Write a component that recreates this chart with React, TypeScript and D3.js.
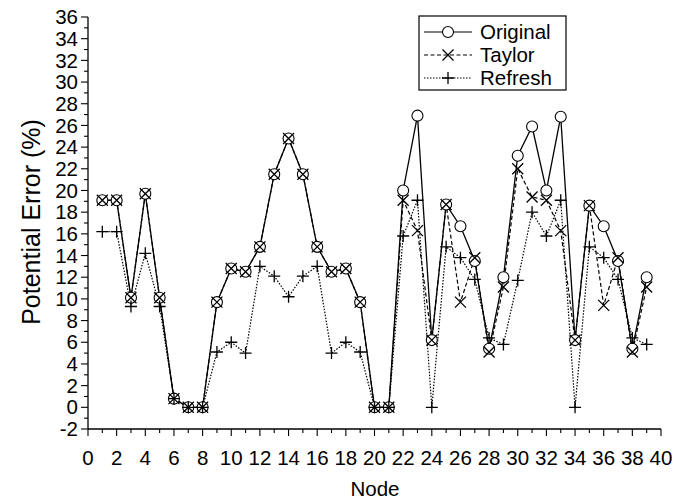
import React from "react";
import * as d3 from "d3";

const nodes = d3.range(1, 40);
const original = [19.1, 19.1, 10.1, 19.7, 10.1, 0.8, 0, 0, 9.7, 12.8, 12.5, 14.8, 21.5, 24.8, 21.5, 14.8, 12.5, 12.8, 9.7, 0, 0, 20.0, 26.9, 6.2, 18.7, 16.7, 13.5, 5.4, 12.0, 23.2, 25.9, 20.0, 26.8, 6.2, 18.6, 16.7, 13.5, 5.4, 12.0];
const taylor = [19.1, 19.1, 10.1, 19.7, 10.1, 0.8, 0, 0, 9.7, 12.8, 12.5, 14.8, 21.5, 24.8, 21.5, 14.8, 12.5, 12.8, 9.7, 0, 0, 19.1, 16.3, 6.2, 18.7, 9.7, 13.8, 5.1, 11.1, 22.0, 19.4, 19.1, 16.3, 6.2, 18.6, 9.4, 13.8, 5.1, 11.1];
const refresh = [16.2, 16.2, 9.3, 14.2, 9.3, 0.8, 0, 0, 5.1, 6.0, 5.0, 13.0, 12.1, 10.2, 12.1, 13.0, 5.0, 6.0, 5.1, 0, 0, 15.8, 19.1, 0, 14.8, 13.8, 11.8, 6.4, 5.8, 11.7, 18.0, 15.8, 19.1, 0, 14.8, 13.8, 11.8, 6.4, 5.8];
const xTicks = d3.range(0, 41, 2);
const yTicks = d3.range(-2, 37, 2);
const legendLabels = ["Original", "Taylor", "Refresh"];

const FONT = "'Liberation Sans', Arial, Helvetica, sans-serif";

export default function App() {
  const W = 689, H = 499;
  const x = d3.scaleLinear().domain([0, 40]).range([88, 661]);
  const y = d3.scaleLinear().domain([-2, 36]).range([429, 17]);
  const line = d3.line<number>().x((_, i) => x(nodes[i])).y((d) => y(d));
  const fs = 20.5;

  const circle = (cx: number, cy: number, k: string) => (
    <circle key={k} cx={cx} cy={cy} r={5.5} fill="white" stroke="#000" strokeWidth={1.1} />
  );
  const cross = (cx: number, cy: number, k: string) => (
    <path key={k} d={`M${cx - 5.5},${cy - 5.5}L${cx + 5.5},${cy + 5.5}M${cx - 5.5},${cy + 5.5}L${cx + 5.5},${cy - 5.5}`} stroke="#000" strokeWidth={1.3} />
  );
  const plus = (cx: number, cy: number, k: string) => (
    <path key={k} d={`M${cx - 6},${cy}L${cx + 6},${cy}M${cx},${cy - 6}L${cx},${cy + 6}`} stroke="#000" strokeWidth={1.3} />
  );

  const legY = [32, 55, 78];
  const legDash = [null, "4,2.5", "1.5,1.5"];
  const legMark = [circle, cross, plus];

  return (
    <svg width={W} height={H} style={{ position: "absolute", left: 0, top: 0, background: "white" }} fontFamily={FONT}>
      <rect width={W} height={H} fill="white" />
      <line x1={x(0)} x2={x(0)} y1={y(36)} y2={y(-2)} stroke="#000" strokeWidth={1.3} />
      <line x1={x(0)} x2={x(40)} y1={y(-2)} y2={y(-2)} stroke="#000" strokeWidth={1.3} />
      {d3.range(-2, 37, 1).map((v) => (
        <line key={"yt" + v} x1={x(0)} x2={x(0) - (v % 2 === 0 ? 7 : 4)} y1={y(v)} y2={y(v)} stroke="#000" strokeWidth={1.1} />
      ))}
      {d3.range(0, 41, 1).map((v) => (
        <line key={"xt" + v} x1={x(v)} x2={x(v)} y1={y(-2)} y2={y(-2) + (v % 2 === 0 ? 7 : 4)} stroke="#000" strokeWidth={1.1} />
      ))}
      {yTicks.map((v) => (
        <text key={"yl" + v} x={78} y={y(v)} dy="0.35em" textAnchor="end" fontSize={fs}>{v}</text>
      ))}
      {xTicks.map((v) => (
        <text key={"xl" + v} x={x(v)} y={465} textAnchor="middle" fontSize={fs}>{v}</text>
      ))}
      <text x={375} y={496} textAnchor="middle" fontSize={fs}>Node</text>
      <text transform="translate(40,222) rotate(-90)" textAnchor="middle" fontSize={25}>Potential Error (%)</text>

      <path d={line(refresh) || ""} fill="none" stroke="#000" strokeWidth={1.2} strokeDasharray="1.5,1.5" />
      <path d={line(taylor) || ""} fill="none" stroke="#000" strokeWidth={1.2} strokeDasharray="4,2.5" />
      <path d={line(original) || ""} fill="none" stroke="#000" strokeWidth={1.3} />
      {original.map((v, i) => circle(x(nodes[i]), y(v), "c" + i))}
      {taylor.map((v, i) => cross(x(nodes[i]), y(v), "x" + i))}
      {refresh.map((v, i) => plus(x(nodes[i]), y(v), "p" + i))}

      <rect x={419} y={16} width={147} height={74} fill="white" stroke="#000" strokeWidth={1.2} />
      {legendLabels.map((lab, i) => (
        <g key={lab}>
          <line x1={424} x2={472} y1={legY[i]} y2={legY[i]} stroke="#000" strokeWidth={1.2} strokeDasharray={legDash[i] || undefined} />
          {legMark[i](448, legY[i], "lm" + i)}
          <text x={480} y={legY[i]} dy="0.35em" fontSize={fs}>{lab}</text>
        </g>
      ))}
    </svg>
  );
}
